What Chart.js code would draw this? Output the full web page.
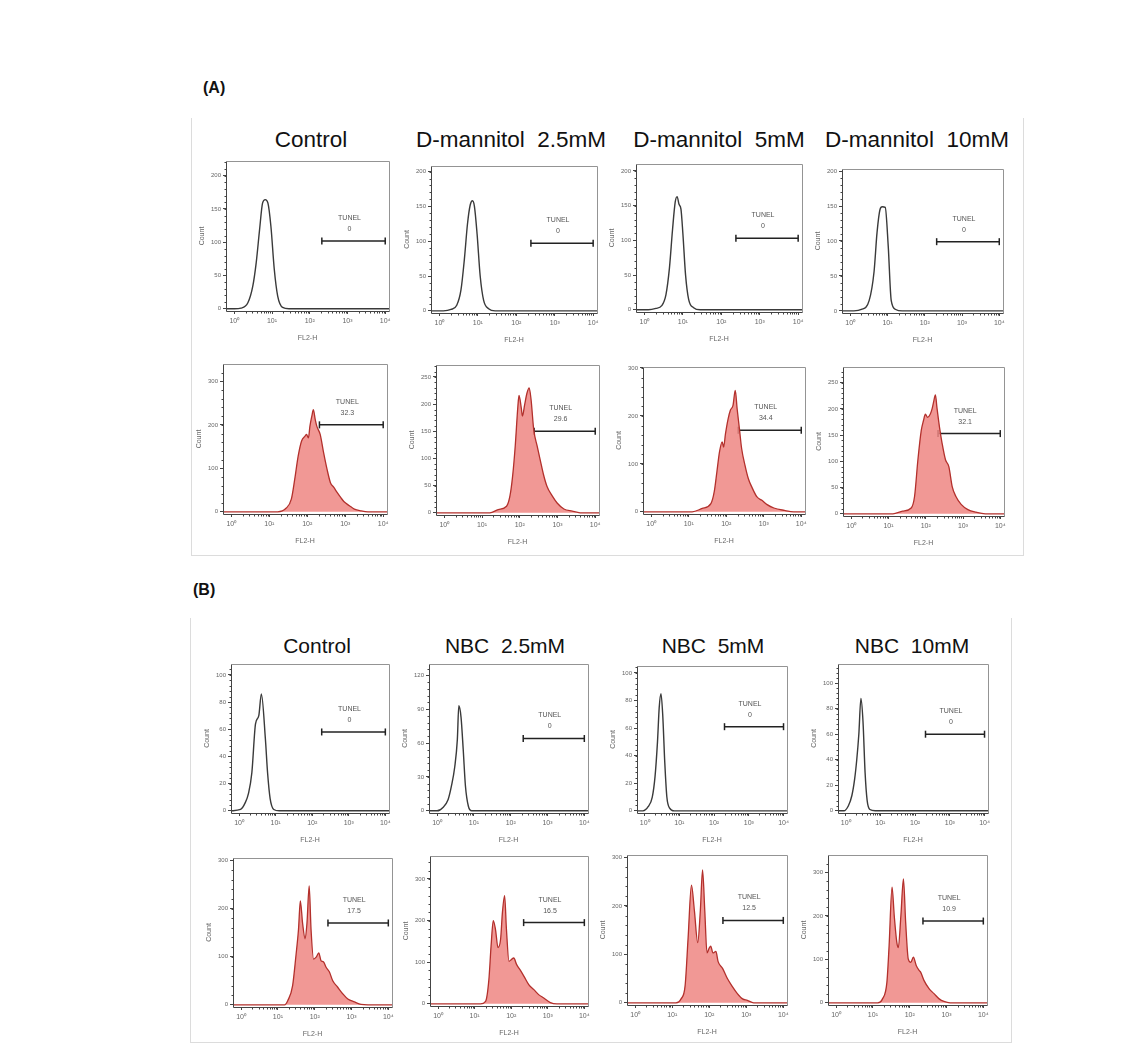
<!DOCTYPE html>
<html>
<head>
<meta charset="utf-8">
<script src="https://cdn.jsdelivr.net/npm/chart.js@4.4.1/dist/chart.umd.min.js"></script>
<style>
  body { margin: 0; background: #fff; width: 1137px; height: 1058px; position: relative; overflow: hidden;
         font-family: "Liberation Sans", Arial, sans-serif; }
  canvas { position: absolute; }
  .ttl { position: absolute; color: #111; white-space: pre; transform: translate(-50%, -50%); }
  .lab { position: absolute; font-weight: bold; font-size: 16px; color: #111; }
  .grp { position: absolute; border: 1px solid #dcdcdc; border-top: none; }
</style>
</head>
<body>
<div class="lab" style="left:203px;top:79px">(A)</div>
<div class="lab" style="left:193px;top:581px">(B)</div>
<div class="grp" style="left:191px;top:118px;width:831px;height:437px"></div>
<div class="grp" style="left:190px;top:618px;width:820px;height:424px"></div>
<div id="root"></div>

<script>
// x axis is log10(FL2-H)
const xTicks = [0, 1, 2, 3, 4];
const xTickLabels = ['10⁰', '10¹', '10²', '10³', '10⁴'];
const xMin = -0.22, xMax = 4.1;

const titlesA = ['Control', 'D-mannitol  2.5mM', 'D-mannitol  5mM', 'D-mannitol  10mM'];
const titlesB = ['Control', 'NBC  2.5mM', 'NBC  5mM', 'NBC  10mM'];

// TUNEL gate: start (log10), count level, percentage
const gateStart = [2.32, 2.38, 2.38, 2.32, 2.32, 2.38, 2.32, 2.33,
                   2.26, 2.34, 2.3, 2.3, 2.36, 2.34, 2.37, 2.36];
const gateY = [102, 97, 103, 99, 200, 150, 170, 153,
               58, 64, 61, 60, 170, 195, 170, 188];
const gateText = ['0', '0', '0', '0', '32.3', '29.6', '34.4', '32.1',
                  '0', '0', '0', '0', '17.5', '16.5', '12.5', '10.9'];

// y axis tick values and top of each panel
const yTickSets = [
  [0, 50, 100, 150, 200], [0, 50, 100, 150, 200], [0, 50, 100, 150, 200], [0, 50, 100, 150, 200],
  [0, 100, 200, 300], [0, 50, 100, 150, 200, 250], [0, 100, 200, 300], [0, 50, 100, 150, 200, 250],
  [0, 20, 40, 60, 80, 100], [0, 30, 60, 90, 120], [0, 20, 40, 60, 80, 100], [0, 20, 40, 60, 80, 100],
  [0, 100, 200, 300], [0, 100, 200, 300], [0, 100, 200, 300], [0, 100, 200, 300]
];
const yTops = [222, 208, 210, 203, 340, 272, 302, 280, 108, 130, 105, 115, 305, 355, 305, 340];

// histograms, [log10(FL2-H), count]
const hA1 = [[-0.22,0],[0,0],[0.18,1],[0.36,9],[0.49,34],[0.58,69],[0.67,119],[0.75,159],[0.82,164],[0.89,159],[0.97,124],[1.06,59],[1.15,19],[1.28,2],[1.45,0],[4.1,0]];
const hA2 = [[-0.22,0],[0.1,0],[0.3,2],[0.45,8],[0.56,30],[0.65,75],[0.73,125],[0.8,152],[0.86,158],[0.91,150],[0.98,110],[1.06,50],[1.15,15],[1.28,3],[1.45,0],[4.1,0]];
const hA3 = [[-0.22,0],[0.1,0],[0.3,2],[0.45,6],[0.56,22],[0.65,60],[0.73,115],[0.8,155],[0.85,163],[0.9,152],[0.95,145],[1.0,110],[1.07,50],[1.15,15],[1.28,3],[1.45,0],[4.1,0]];
const hA4 = [[-0.22,0],[0.1,0],[0.3,2],[0.51,15],[0.64,56],[0.72,112],[0.8,145],[0.86,149],[0.94,148],[1.02,93],[1.1,15],[1.22,2],[1.4,0],[4.1,0]];
const hA5 = [[-0.22,0],[1.22,0],[1.44,8],[1.58,29],[1.67,75],[1.76,128],[1.85,163],[1.94,174],[1.98,178],[2.03,170],[2.07,197],[2.12,220],[2.16,235],[2.21,212],[2.25,197],[2.34,178],[2.43,136],[2.52,98],[2.61,67],[2.7,56],[2.79,44],[2.88,33],[2.97,23],[3.11,14],[3.24,6],[3.42,2],[3.6,0],[4.1,0]];
const hA6 = [[-0.22,0],[1.21,0],[1.43,6],[1.65,12],[1.74,31],[1.81,67],[1.88,123],[1.95,196],[1.98,216],[2.04,193],[2.07,178],[2.13,199],[2.19,220],[2.25,230],[2.3,208],[2.37,153],[2.46,123],[2.54,98],[2.63,70],[2.72,49],[2.86,31],[2.99,18],[3.17,7],[3.39,3],[3.6,0],[4.1,0]];
const hA7 = [[-0.22,0],[1.09,0],[1.36,7],[1.59,17],[1.68,42],[1.75,83],[1.82,125],[1.89,146],[1.93,135],[1.98,163],[2.05,194],[2.11,212],[2.18,222],[2.24,253],[2.29,215],[2.35,174],[2.41,132],[2.5,97],[2.59,69],[2.68,52],[2.82,31],[2.95,24],[3.09,15],[3.27,8],[3.55,3],[3.8,0],[4.1,0]];
const hA8 = [[-0.22,0],[1.12,0],[1.38,5],[1.61,11],[1.7,33],[1.79,103],[1.88,159],[1.94,178],[1.99,190],[2.05,184],[2.12,190],[2.17,200],[2.21,213],[2.26,227],[2.3,203],[2.37,165],[2.44,134],[2.53,103],[2.62,90],[2.71,52],[2.81,33],[2.95,18],[3.13,8],[3.35,3],[3.6,0],[4.1,0]];
const hB1 = [[-0.22,0],[0.04,1],[0.17,6],[0.26,13],[0.35,28],[0.45,64],[0.54,70],[0.61,86],[0.72,53],[0.78,28],[0.85,9],[0.95,1],[1.1,0],[4.1,0]];
const hB2 = [[-0.22,0],[0,0],[0.16,3],[0.3,10],[0.39,22],[0.48,39],[0.55,63],[0.59,93],[0.65,83],[0.71,54],[0.77,22],[0.85,4],[0.94,0],[4.1,0]];
const hB3 = [[-0.22,0],[-0.05,0],[0.1,3],[0.22,10],[0.3,25],[0.37,50],[0.42,75],[0.47,85],[0.52,70],[0.58,35],[0.64,10],[0.72,2],[0.85,0],[4.1,0]];
const hB4 = [[-0.22,0],[-0.05,0],[0.08,4],[0.18,12],[0.26,25],[0.32,40],[0.38,60],[0.44,88],[0.5,70],[0.56,30],[0.62,8],[0.7,1],[0.85,0],[4.1,0]];
const hB5 = [[-0.22,0],[1.18,0],[1.27,9],[1.4,40],[1.49,102],[1.56,157],[1.61,216],[1.67,170],[1.74,137],[1.79,170],[1.85,247],[1.9,157],[1.97,95],[2.04,99],[2.11,108],[2.17,92],[2.24,89],[2.31,78],[2.4,68],[2.49,50],[2.62,37],[2.76,23],[2.9,12],[3.08,6],[3.26,1],[3.45,0],[4.1,0]];
const hB6 = [[-0.22,0],[1.16,0],[1.3,6],[1.39,58],[1.45,139],[1.51,200],[1.57,179],[1.64,135],[1.71,155],[1.76,219],[1.82,260],[1.87,179],[1.94,102],[2.0,106],[2.07,110],[2.15,94],[2.24,82],[2.35,66],[2.48,46],[2.62,34],[2.75,22],[2.89,14],[3.07,3],[3.25,0],[4.1,0]];
const hB7 = [[-0.22,0],[1.1,0],[1.24,8],[1.35,36],[1.43,134],[1.52,243],[1.6,190],[1.69,124],[1.76,190],[1.82,274],[1.88,190],[1.94,103],[2.0,113],[2.04,117],[2.1,103],[2.18,106],[2.24,85],[2.36,71],[2.49,50],[2.63,33],[2.76,19],[2.9,8],[3.03,5],[3.2,0],[4.1,0]];
const hB8 = [[-0.22,0],[1.13,0],[1.26,9],[1.38,47],[1.44,131],[1.52,266],[1.58,200],[1.65,139],[1.69,127],[1.76,200],[1.83,285],[1.89,185],[1.96,101],[2.03,93],[2.1,105],[2.18,85],[2.26,74],[2.3,70],[2.39,51],[2.53,32],[2.66,21],[2.8,9],[2.93,3],[3.1,0],[4.1,0]];

const hists = [hA1, hA2, hA3, hA4, hA5, hA6, hA7, hA8, hB1, hB2, hB3, hB4, hB5, hB6, hB7, hB8];
const filled = [false, false, false, false, true, true, true, true,
                false, false, false, false, true, true, true, true];

// plot boxes on the page: left, top, right, bottom
const boxes = [
  [226, 161, 389, 311], [431, 166, 597, 313], [636, 164, 802, 312], [842, 169, 1003, 313],
  [223, 364, 387, 514], [436, 365, 599, 515], [643, 367, 805, 514], [843, 367, 1004, 516],
  [231, 664, 389, 813], [429, 664, 588, 813], [637, 666, 787, 813], [838, 664, 988, 813],
  [233, 858, 392, 1007], [430, 856, 588, 1006], [627, 855, 787, 1005], [828, 855, 987, 1005]
];
const titleX = [311, 511, 719, 917, 317, 505, 713, 912];
const titleY = [140, 646];
const titleSize = [22.5, 21];

const padL = 28, padT = 8, padR = 8, padB = 34;

const framePlugin = {
  id: 'frame',
  afterDraw(chart, args, o) {
    const { ctx, chartArea: a, scales: { x, y } } = chart;
    const L = Math.round(a.left) + 0.5, T = Math.round(a.top) + 0.5;
    const R = Math.round(a.right) + 0.5, B = Math.round(a.bottom) + 0.5;
    ctx.save();
    ctx.lineWidth = 1;
    ctx.strokeStyle = '#949494';
    ctx.beginPath();
    ctx.moveTo(L, T); ctx.lineTo(R, T); ctx.lineTo(R, B);
    ctx.stroke();
    ctx.strokeStyle = '#444';
    ctx.beginPath();
    ctx.moveTo(L, T); ctx.lineTo(L, B); ctx.lineTo(R, B);
    // minor ticks
    for (let d = 0; d < 4; d++) {
      for (let k = 2; k < 10; k++) {
        const px = Math.round(x.getPixelForValue(d + Math.log10(k))) + 0.5;
        ctx.moveTo(px, B); ctx.lineTo(px, B + 2);
      }
    }
    const yt = o.ticks;
    const step = yt[1] - yt[0];
    for (let v = step / 5; v < y.max; v += step / 5) {
      const py = Math.round(y.getPixelForValue(v)) + 0.5;
      ctx.moveTo(L, py); ctx.lineTo(L - 2, py);
    }
    ctx.stroke();
    // gate label
    const cx = (x.getPixelForValue(o.g0) + x.getPixelForValue(4)) / 2 - 4;
    const gy = y.getPixelForValue(o.gy);
    ctx.fillStyle = '#555';
    ctx.font = '7px "Liberation Sans", Arial, sans-serif';
    ctx.textAlign = 'center';
    ctx.textBaseline = 'middle';
    ctx.fillText('TUNEL', cx, gy - 23);
    ctx.fillText(o.txt, cx, gy - 12);
    ctx.restore();
  }
};

const root = document.getElementById('root');

[...titlesA, ...titlesB].forEach((t, i) => {
  const d = document.createElement('div');
  d.className = 'ttl';
  d.textContent = t;
  d.style.left = titleX[i] + 'px';
  d.style.top = titleY[i < 4 ? 0 : 1] + 'px';
  d.style.fontSize = titleSize[i < 4 ? 0 : 1] + 'px';
  root.appendChild(d);
});

boxes.forEach((b, i) => {
  const cv = document.createElement('canvas');
  const w = b[2] - b[0] + padL + padR, h = b[3] - b[1] + padT + padB;
  cv.width = w; cv.height = h;
  cv.style.left = (b[0] - padL) + 'px';
  cv.style.top = (b[1] - padT) + 'px';
  cv.style.width = w + 'px'; cv.style.height = h + 'px';
  root.appendChild(cv);

  const fill = filled[i];
  const yt = yTickSets[i];
  const top = yTops[i];

  new Chart(cv, {
    type: 'line',
    data: {
      datasets: [
        {
          data: hists[i].map(p => ({ x: p[0], y: p[1] })),
          borderColor: fill ? '#b3302c' : '#3a3a3a',
          backgroundColor: fill ? 'rgba(239,134,130,0.85)' : 'transparent',
          fill: fill ? 'origin' : false,
          borderWidth: fill ? 1.3 : 1.4,
          pointRadius: 0,
          cubicInterpolationMode: 'monotone'
        },
        {
          data: [{ x: gateStart[i], y: gateY[i] }, { x: 4, y: gateY[i] }],
          borderColor: '#222',
          borderWidth: 1.5,
          pointStyle: 'line',
          rotation: 90,
          pointRadius: 3.5,
          pointBorderColor: '#222',
          pointBorderWidth: 1.5
        }
      ]
    },
    options: {
      responsive: false,
      animation: false,
      devicePixelRatio: 1,
      layout: { padding: { top: padT, right: padR, left: 0, bottom: 0 } },
      plugins: {
        legend: { display: false },
        tooltip: { enabled: false },
        frame: { g0: gateStart[i], gy: gateY[i], txt: gateText[i], ticks: yt }
      },
      scales: {
        x: {
          type: 'linear', min: xMin, max: xMax,
          afterBuildTicks: s => { s.ticks = xTicks.map(v => ({ value: v })); },
          afterFit: s => { s.height = padB; },
          grid: { drawOnChartArea: false, drawTicks: true, tickLength: 3, color: '#444' },
          border: { display: false },
          ticks: { font: { size: 7 }, color: '#666', padding: 3, maxRotation: 0, autoSkip: false,
                   callback: (v, k) => xTickLabels[k] },
          title: { display: true, text: 'FL2-H', font: { size: 7 }, color: '#666', padding: { top: 0, bottom: 3 } }
        },
        y: {
          type: 'linear', min: -top * 0.015, max: top,
          afterBuildTicks: s => { s.ticks = yt.map(v => ({ value: v })); },
          afterFit: s => { s.width = padL; },
          grid: { drawOnChartArea: false, drawTicks: true, tickLength: 3, color: '#444' },
          border: { display: false },
          ticks: { font: { size: 6 }, color: '#666', padding: 2 },
          title: { display: true, text: 'Count', font: { size: 7 }, color: '#666', padding: { top: 0, bottom: 0 } }
        }
      }
    },
    plugins: [framePlugin]
  });
});
</script>
</body>
</html>
